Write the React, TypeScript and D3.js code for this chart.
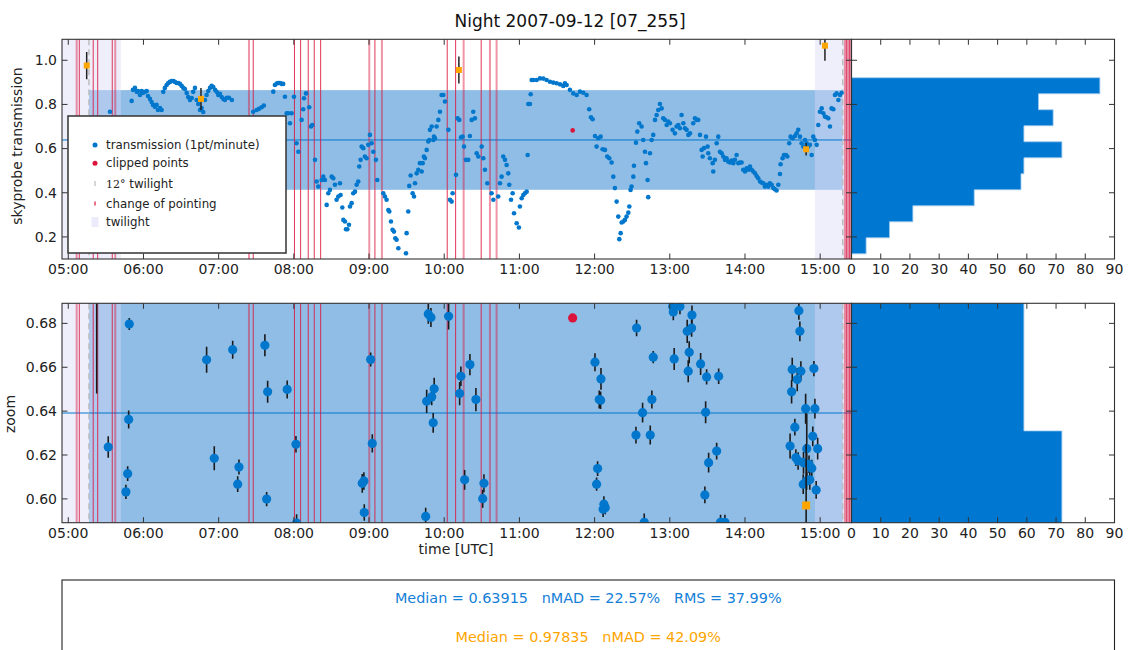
import React from "react";
import * as d3 from "d3";

// ---------- DATA ----------
const TITLE = "Night 2007-09-12 [07_255]";
const T0 = Date.UTC(2007, 8, 12, 5, 0, 0); // 05:00 UTC, times below are minutes after it
const xDomainMinutes = [-5, 625];
const yTopDomain = [0.1, 1.095];

const MEDIAN = 0.63915;
const NMAD = 0.2257;
const RMS = 0.3799;
const REF_MEDIAN = 0.97835;
const REF_NMAD = 0.4209;
const ZOOM_HALF = 0.05;

// transmission (1pt/minute): [minutes after 05:00, transmission]
const transmission: [number, number][] = [
  [33.3, 0.767],
  [50.6, 0.816], [51.6, 0.866], [53.2, 0.875], [54.6, 0.857], [55.6, 0.861], [57.2, 0.843], [58.6, 0.861], [59.6, 0.852], [61.2, 0.857], [62.6, 0.861],
  [63.6, 0.838], [65.2, 0.825], [66.5, 0.811], [67.6, 0.798], [69.2, 0.789], [70.5, 0.798], [71.6, 0.775], [73.2, 0.784], [74.5, 0.775], [75.8, 0.857],
  [77.1, 0.875], [78.5, 0.888], [79.8, 0.897], [81.1, 0.902], [82.5, 0.906], [83.8, 0.906], [85.1, 0.902], [86.5, 0.897], [87.8, 0.897], [89.1, 0.893],
  [90.5, 0.884], [91.8, 0.875], [93.1, 0.870], [94.5, 0.852], [95.7, 0.834], [97.1, 0.820], [98.5, 0.829], [99.7, 0.857], [101.1, 0.875], [102.4, 0.820],
  [103.7, 0.802], [105.1, 0.775], [106.4, 0.784], [107.7, 0.766], [109.1, 0.820], [110.4, 0.843], [111.7, 0.861], [113.1, 0.875], [114.4, 0.884], [115.7, 0.879],
  [117.1, 0.866], [118.4, 0.857], [119.7, 0.843], [121.0, 0.848], [122.4, 0.834], [123.7, 0.825], [125.0, 0.820], [126.6, 0.830], [128.2, 0.830], [130.6, 0.820],
  [147.6, 0.767], [150.3, 0.775], [152.2, 0.780], [154.3, 0.787], [156.1, 0.795], [163.6, 0.858], [164.9, 0.888], [166.3, 0.895], [167.6, 0.897], [168.9, 0.897],
  [170.3, 0.893], [171.5, 0.893], [172.9, 0.835], [174.3, 0.760], [175.5, 0.760], [176.9, 0.715],
  [178.2, 0.760], [180.1, 0.835], [182.2, 0.624], [183.6, 0.586], [186.2, 0.730], [187.5, 0.778], [188.1, 0.828], [189.7, 0.850], [192.3, 0.787], [193.7, 0.700],
  [194.7, 0.707], [196.9, 0.549], [198.2, 0.451], [199.5, 0.428], [202.2, 0.458], [203.5, 0.473], [204.8, 0.458], [206.2, 0.345], [207.5, 0.398], [208.8, 0.413],
  [210.2, 0.473], [211.5, 0.466], [212.8, 0.436], [214.1, 0.368], [215.5, 0.383], [216.8, 0.443], [217.3, 0.390], [218.7, 0.333], [219.5, 0.277], [220.8, 0.270],
  [221.6, 0.235], [222.7, 0.235], [224.0, 0.255], [224.8, 0.338], [226.1, 0.353], [227.4, 0.398], [228.8, 0.405], [230.1, 0.436], [231.4, 0.451], [232.2, 0.519],
  [233.3, 0.549], [234.1, 0.609], [235.4, 0.602], [236.7, 0.564], [238.1, 0.556], [239.4, 0.617], [240.7, 0.662], [242.1, 0.624], [243.4, 0.586], [245.5, 0.549],
  [246.6, 0.458], [251.4, 0.398], [252.7, 0.383], [254.0, 0.368], [255.4, 0.322], [256.2, 0.315], [257.5, 0.270], [258.8, 0.232], [259.9, 0.224], [261.0, 0.194],
  [262.0, 0.187], [263.4, 0.149], [269.5, 0.126], [270.0, 0.217], [271.3, 0.315], [272.1, 0.431], [273.2, 0.478], [274.8, 0.398], [275.9, 0.383], [276.7, 0.443],
  [278.0, 0.488], [279.3, 0.504], [280.6, 0.534], [282.0, 0.496], [282.8, 0.534], [283.8, 0.564], [284.6, 0.556], [286.0, 0.594], [287.3, 0.632], [288.1, 0.639],
  [288.6, 0.685], [290.0, 0.700], [291.3, 0.639], [291.8, 0.654], [292.6, 0.647], [293.9, 0.700], [295.3, 0.730], [296.6, 0.767], [297.9, 0.843], [299.3, 0.843],
  [300.6, 0.813], [303.3, 0.685], [304.6, 0.368], [305.9, 0.360], [306.7, 0.398], [309.4, 0.481], [310.7, 0.737], [312.0, 0.730], [313.4, 0.651], [314.7, 0.654],
  [315.8, 0.609], [317.3, 0.549], [319.2, 0.549], [320.5, 0.657], [321.9, 0.730], [323.2, 0.767], [324.5, 0.737], [325.9, 0.579], [327.2, 0.564], [329.9, 0.609],
  [331.2, 0.556], [332.5, 0.504], [334.4, 0.443], [337.8, 0.398], [339.2, 0.368], [343.1, 0.383], [344.5, 0.443], [345.8, 0.473], [347.1, 0.564], [348.5, 0.549],
  [349.8, 0.526], [351.1, 0.488], [351.9, 0.436], [353.3, 0.368], [354.6, 0.398], [355.7, 0.307], [357.8, 0.262], [359.6, 0.243], [360.4, 0.338], [361.8, 0.375],
  [363.1, 0.390], [364.4, 0.398], [365.8, 0.405], [366.6, 0.571], [367.1, 0.802], [368.4, 0.802], [369.0, 0.846], [369.8, 0.911], [371.1, 0.911], [373.7, 0.911],
  [376.4, 0.918], [379.1, 0.917], [381.7, 0.911], [384.4, 0.903], [387.0, 0.899], [389.7, 0.896], [392.4, 0.891], [395.0, 0.884], [396.3, 0.896], [397.7, 0.888],
  [400.3, 0.866], [403.0, 0.850], [405.7, 0.843],
  [408.3, 0.858], [411.0, 0.853], [413.6, 0.843], [415.7, 0.778], [417.1, 0.742], [418.4, 0.733], [420.3, 0.657], [421.6, 0.609], [422.9, 0.647], [424.8, 0.654],
  [426.4, 0.597], [428.3, 0.594], [430.1, 0.564], [431.7, 0.556], [433.6, 0.537], [434.9, 0.473], [436.2, 0.421], [437.6, 0.360], [438.9, 0.292], [439.7, 0.190],
  [440.8, 0.217], [441.6, 0.265], [442.9, 0.270], [444.2, 0.277], [445.5, 0.292], [446.9, 0.310], [447.7, 0.338], [448.7, 0.413], [449.5, 0.428], [450.9, 0.473],
  [451.4, 0.522], [453.0, 0.627], [454.1, 0.677], [455.6, 0.715], [457.5, 0.700], [458.8, 0.639], [460.2, 0.586], [461.0, 0.534], [462.3, 0.458], [462.8, 0.380],
  [464.2, 0.579], [465.5, 0.639], [466.8, 0.662], [468.2, 0.730], [469.5, 0.752], [470.8, 0.775], [472.1, 0.802], [473.5, 0.782], [474.8, 0.737], [476.1, 0.730],
  [477.5, 0.707], [478.8, 0.722], [480.1, 0.715], [482.2, 0.685], [484.1, 0.669], [485.4, 0.700], [486.8, 0.707], [488.1, 0.692], [489.4, 0.752], [490.8, 0.715],
  [492.1, 0.692], [493.4, 0.685], [494.8, 0.662], [496.1, 0.669], [498.7, 0.715], [500.1, 0.737], [501.4, 0.730], [502.7, 0.730], [504.1, 0.662], [505.4, 0.594],
  [506.2, 0.564], [507.3, 0.602], [508.9, 0.654], [510.2, 0.609], [510.7, 0.579], [512.0, 0.556], [514.2, 0.534], [514.7, 0.496], [516.0, 0.549], [517.4, 0.624],
  [518.7, 0.654], [520.0, 0.586], [521.4, 0.579], [522.7, 0.564], [524.0, 0.549], [525.3, 0.556], [526.7, 0.541], [528.0, 0.537], [529.3, 0.546], [530.7, 0.534],
  [532.0, 0.549], [533.3, 0.571], [534.7, 0.534], [536.0, 0.537], [537.3, 0.537], [538.6, 0.504], [540.0, 0.496], [541.3, 0.511], [542.6, 0.504], [544.0, 0.519],
  [545.3, 0.504], [546.6, 0.496], [548.0, 0.488], [549.3, 0.476], [550.6, 0.466], [552.0, 0.451], [553.3, 0.446], [554.6, 0.443], [555.9, 0.428], [557.3, 0.436],
  [558.6, 0.428], [559.9, 0.443], [561.3, 0.436], [562.6, 0.421], [563.9, 0.416], [565.2, 0.410], [566.6, 0.436], [567.9, 0.485], [568.4, 0.529], [570.0, 0.556],
  [571.1, 0.571], [572.7, 0.571], [573.8, 0.564], [575.3, 0.624], [576.4, 0.654], [578.0, 0.647], [579.9, 0.657], [581.2, 0.669], [582.5, 0.685], [583.9, 0.654],
  [585.2, 0.624], [586.5, 0.609], [587.9, 0.639], [589.2, 0.624], [590.5, 0.609], [591.8, 0.617], [593.2, 0.571], [594.5, 0.654], [595.8, 0.639], [597.2, 0.617],
  [598.5, 0.707], [599.8, 0.767], [601.2, 0.782], [602.5, 0.760], [603.8, 0.745], [605.1, 0.742], [606.5, 0.737], [607.8, 0.700], [609.1, 0.782], [610.5, 0.778],
  [611.8, 0.843], [613.1, 0.850], [614.5, 0.820], [615.8, 0.843], [617.1, 0.853],
];

// clipped points: [minutes, value]
const clippedPoints: [number, number][] = [[402.5, 0.6825]];

// reference measurements (orange): [minutes, value, error]
const referencePoints: [number, number, number][] = [
  [14.7, 0.976, 0.062], [105.9, 0.825, 0.05], [311.7, 0.956, 0.061], [588.8, 0.597, 0.028], [603.8, 1.066, 0.068],
];

// zoom panel points: [minutes, zoom, error]
const zoomPoints: [number, number, number][] = [
  [22.7, 0.705, 0.057], [31.9, 0.6236, 0.0049], [46.0, 0.6032, 0.0032], [47.4, 0.6115, 0.0034], [48.2, 0.6362, 0.0041],
  [48.7, 0.6797, 0.0027], [110.4, 0.6634, 0.0059], [116.5, 0.6185, 0.0055], [131.2, 0.668, 0.0041], [135.2, 0.6067, 0.0036],
  [136.2, 0.6145, 0.0034], [156.9, 0.67, 0.005], [158.3, 0.5999, 0.0032], [159.1, 0.6488, 0.005], [174.7, 0.6499, 0.0041],
  [181.7, 0.6249, 0.0038], [182.2, 0.589, 0.004], [234.6, 0.6071, 0.0043], [235.9, 0.6082, 0.004], [236.2, 0.5938, 0.0038],
  [241.3, 0.6635, 0.0032], [242.6, 0.6253, 0.0042], [285.2, 0.592, 0.004], [286.0, 0.6445, 0.0053], [287.3, 0.6843, 0.0045],
  [289.4, 0.6827, 0.0043], [290.0, 0.6465, 0.0038], [291.2, 0.6347, 0.0045], [292.0, 0.6502, 0.005], [303.5, 0.6832, 0.006],
  [312.3, 0.648, 0.0053], [313.3, 0.6559, 0.0045], [316.3, 0.6087, 0.0045], [320.5, 0.6612, 0.0048], [325.3, 0.6453, 0.0053],
  [330.7, 0.6001, 0.0041], [331.7, 0.6071, 0.0041], [420.3, 0.6623, 0.0041], [421.6, 0.6067, 0.003], [422.4, 0.6138, 0.0034],
  [423.7, 0.6453, 0.0041], [424.8, 0.645, 0.004], [425.1, 0.6547, 0.005], [426.8, 0.5953, 0.0035], [427.4, 0.5976, 0.0036],
  [428.5, 0.596, 0.003], [453.0, 0.6291, 0.0038], [453.5, 0.6779, 0.0038], [458.3, 0.6393, 0.0045], [459.6, 0.5893, 0.004],
  [464.4, 0.6291, 0.0043], [465.7, 0.6453, 0.0041], [466.8, 0.6646, 0.0028], [482.3, 0.6877, 0.0038], [482.8, 0.6852, 0.0038],
  [483.5, 0.6638, 0.005], [488.1, 0.6877, 0.0035], [493.9, 0.6764, 0.0053], [494.7, 0.6582, 0.005], [495.5, 0.6668, 0.005],
  [497.4, 0.6779, 0.004], [497.7, 0.6838, 0.0043], [504.6, 0.6615, 0.005], [508.0, 0.6018, 0.0038], [508.6, 0.6395, 0.005],
  [509.4, 0.6556, 0.0035], [511.0, 0.6165, 0.0045], [517.4, 0.6218, 0.0038], [519.0, 0.6559, 0.0035], [520.5, 0.5893, 0.0035],
  [524.0, 0.5893, 0.0035], [576.0, 0.6241, 0.0057], [577.2, 0.6488, 0.0053], [577.7, 0.659, 0.0053], [579.8, 0.6327, 0.0038],
  [580.6, 0.6188, 0.0038], [581.7, 0.6544, 0.0053], [582.4, 0.6173, 0.004], [583.0, 0.6858, 0.0042], [583.8, 0.6764, 0.0045],
  [584.6, 0.6582, 0.0045], [586.5, 0.6067, 0.0045], [586.7, 0.6165, 0.005], [588.4, 0.6411, 0.0068], [589.2, 0.6082, 0.004],
  [589.3, 0.6229, 0.016], [591.1, 0.6158, 0.004], [591.7, 0.6087, 0.0045], [593.3, 0.614, 0.0038], [594.1, 0.6285, 0.0045],
  [595.0, 0.6594, 0.0035], [595.8, 0.6411, 0.0045], [596.8, 0.6041, 0.004], [598.0, 0.6229, 0.005],
];

// change of pointing (minutes after 05:00)
const pointingChanges = [8.8, 19.9, 23.5, 35.1, 147.6, 180.5, 185.4, 191.5, 196.3, 201.4, 244.7, 302.4, 309.1, 329.5, 620.9, 623.3];
const pointingChangesFaint = [6.7, 37.5, 144.2, 240.2, 250.3, 315.5, 336.5, 341.8, 619.7, 622.1, 624.5];

// twilight spans and 12 degree twilight (minutes)
const twilightSpans: [number, number][] = [[-5, 42], [595.8, 625]];
const twilight12 = [16.5, 618];

// histogram of transmission
const histEdges = [0.1235, 0.196, 0.2685, 0.341, 0.4135, 0.486, 0.5585, 0.631, 0.7035, 0.776, 0.8485, 0.921];
const histCounts = [5, 13, 21, 42, 58, 59, 72, 59, 69, 64, 85];

const yTopTicks = [0.2, 0.4, 0.6, 0.8, 1.0];
const yBotTicks = [0.6, 0.62, 0.64, 0.66, 0.68];
const histTicks = [0, 10, 20, 30, 40, 50, 60, 70, 80, 90];

// ---------- STYLE / LAYOUT ----------
const W = 1128, H = 650;
const L = 62, R = 851.5, HR = 1114.5;
const P1 = { top: 39.3, bottom: 259 };
const P2 = { top: 303.3, bottom: 522.7 };
const FONT = "DejaVu Sans, sans-serif";
const BLUE = "#0077cc";
const HIST_BLUE = "#0078d2";
const ORANGE = "#ffa500";
const CRIMSON = "#dc143c";
const BAND = "#8fbde6";
const TWI = "#d8d8f8";
const SPINE = "#333";

const toDate = (m: number) => new Date(T0 + m * 60000);

export default function App() {
  const x = d3.scaleUtc().domain([toDate(xDomainMinutes[0]), toDate(xDomainMinutes[1])]).range([L, R]);
  const xm = (m: number) => x(toDate(m));
  const xH = d3.scaleLinear().domain([0, 90]).range([R, HR]);
  const yTop = d3.scaleLinear().domain(yTopDomain).range([P1.bottom, P1.top]);
  const yBot = d3.scaleLinear().domain([MEDIAN - ZOOM_HALF, MEDIAN + ZOOM_HALF]).range([P2.bottom, P2.top]);
  const hourTicks = x.ticks(d3.utcHour.every(1) as any);
  const fmtHour = d3.utcFormat("%H:%M");

  const histPath = (y: d3.ScaleLinear<number, number>) => {
    const p = d3.path();
    p.moveTo(xH(0), y(histEdges[0]));
    histCounts.forEach((c, i) => {
      p.lineTo(xH(c), y(histEdges[i]));
      p.lineTo(xH(c), y(histEdges[i + 1]));
    });
    p.lineTo(xH(0), y(histEdges[histEdges.length - 1]));
    p.closePath();
    return p.toString();
  };

  const background = (y: d3.ScaleLinear<number, number>, box: { top: number; bottom: number }) => (
    <g>
      <rect
        x={xm(twilight12[0])}
        width={xm(twilight12[1]) - xm(twilight12[0])}
        y={y(MEDIAN + NMAD)}
        height={y(MEDIAN - NMAD) - y(MEDIAN + NMAD)}
        fill={BAND}
      />
      {twilightSpans.map(([a, b], i) => (
        <rect key={i} x={xm(a)} width={xm(b) - xm(a)} y={box.top} height={box.bottom - box.top} fill={TWI} opacity={0.42} />
      ))}
      <line x1={L} x2={R} y1={y(MEDIAN)} y2={y(MEDIAN)} stroke={BLUE} strokeWidth={1} />
      {pointingChangesFaint.map((m, i) => (
        <line key={"f" + i} x1={xm(m)} x2={xm(m)} y1={box.top} y2={box.bottom} stroke={CRIMSON} strokeOpacity={0.45} strokeWidth={2} />
      ))}
      {pointingChanges.map((m, i) => (
        <line key={"p" + i} x1={xm(m)} x2={xm(m)} y1={box.top} y2={box.bottom} stroke={CRIMSON} strokeOpacity={0.85} strokeWidth={1} />
      ))}
      {twilight12.map((m, i) => (
        <line key={"t" + i} x1={xm(m)} x2={xm(m)} y1={box.top} y2={box.bottom} stroke="#bbbbbb" strokeWidth={1.4} strokeDasharray="6,4" />
      ))}
    </g>
  );

  const frame = (
    key: string,
    y: d3.ScaleLinear<number, number>,
    box: { top: number; bottom: number },
    yTicks: number[],
    yFmt: (v: number) => string
  ) => {
    const tl = 5.5;
    return (
      <g key={key}>
        <rect x={L} y={box.top} width={R - L} height={box.bottom - box.top} fill="none" stroke={SPINE} strokeWidth={1.1} />
        <rect x={R} y={box.top} width={HR - R} height={box.bottom - box.top} fill="none" stroke={SPINE} strokeWidth={1.1} />
        {hourTicks.map((d, i) => (
          <g key={"x" + i}>
            <line x1={x(d)} x2={x(d)} y1={box.bottom} y2={box.bottom - tl} stroke={SPINE} />
            <line x1={x(d)} x2={x(d)} y1={box.top} y2={box.top + tl} stroke={SPINE} />
            <text x={x(d)} y={box.bottom + 15} textAnchor="middle" fontSize={14} fontFamily={FONT} fill="#222">
              {fmtHour(d)}
            </text>
          </g>
        ))}
        {histTicks.map((v, i) => (
          <g key={"h" + i}>
            <line x1={xH(v)} x2={xH(v)} y1={box.bottom} y2={box.bottom - tl} stroke={SPINE} />
            <line x1={xH(v)} x2={xH(v)} y1={box.top} y2={box.top + tl} stroke={SPINE} />
            <text x={xH(v)} y={box.bottom + 15} textAnchor="middle" fontSize={14} fontFamily={FONT} fill="#222">
              {v}
            </text>
          </g>
        ))}
        {yTicks.map((v, i) => (
          <g key={"y" + i}>
            <line x1={L} x2={L + tl} y1={y(v)} y2={y(v)} stroke={SPINE} />
            <line x1={R} x2={R - tl} y1={y(v)} y2={y(v)} stroke={SPINE} />
            <line x1={R} x2={R + tl} y1={y(v)} y2={y(v)} stroke={SPINE} />
            <line x1={HR} x2={HR - tl} y1={y(v)} y2={y(v)} stroke={SPINE} />
            <text x={L - 5} y={y(v)} dy="0.35em" textAnchor="end" fontSize={14} fontFamily={FONT} fill="#222">
              {yFmt(v)}
            </text>
          </g>
        ))}
      </g>
    );
  };

  const statsLine1 = `Median = ${MEDIAN.toFixed(5)}   nMAD = ${(NMAD * 100).toFixed(2)}%   RMS = ${(RMS * 100).toFixed(2)}%`;
  const statsLine2 = `Median = ${REF_MEDIAN.toFixed(5)}   nMAD = ${(REF_NMAD * 100).toFixed(2)}%`;

  return (
    <svg width={W} height={H} style={{ position: "absolute", left: 0, top: 0, display: "block", background: "#fff" }}>
      <defs>
        <clipPath id="clipTop"><rect x={L} y={P1.top} width={R - L} height={P1.bottom - P1.top} /></clipPath>
        <clipPath id="clipBot"><rect x={L} y={P2.top} width={R - L} height={P2.bottom - P2.top} /></clipPath>
        <clipPath id="clipHTop"><rect x={R} y={P1.top} width={HR - R} height={P1.bottom - P1.top} /></clipPath>
        <clipPath id="clipHBot"><rect x={R} y={P2.top} width={HR - R} height={P2.bottom - P2.top} /></clipPath>
      </defs>

      <text x={570} y={27} textAnchor="middle" fontSize={17} fontFamily={FONT} fill="#111">{TITLE}</text>

      {/* ---------- top panel ---------- */}
      <g clipPath="url(#clipTop)">
        {background(yTop, P1)}
        {transmission.map(([m, v], i) => (
          <circle key={i} cx={xm(m)} cy={yTop(v)} r={2.3} fill={BLUE} />
        ))}
        {clippedPoints.map(([m, v], i) => (
          <circle key={i} cx={xm(m)} cy={yTop(v)} r={2.3} fill={CRIMSON} />
        ))}
        {referencePoints.map(([m, v, e], i) => (
          <g key={i}>
            <line x1={xm(m)} x2={xm(m)} y1={yTop(v - e)} y2={yTop(v + e)} stroke="#222" strokeWidth={1.5} />
            <rect x={xm(m) - 3} y={yTop(v) - 3} width={6} height={6} fill={ORANGE} />
          </g>
        ))}
      </g>
      <g clipPath="url(#clipHTop)">
        <path d={histPath(yTop)} fill={HIST_BLUE} stroke="#9fc9ee" strokeWidth={0.8} />
      </g>
      {frame("f1", yTop, P1, yTopTicks, (v) => v.toFixed(1))}
      <text transform={`translate(22,146) rotate(-90)`} textAnchor="middle" fontSize={14} fontFamily={FONT} fill="#222">
        skyprobe transmission
      </text>

      {/* legend */}
      <g fontFamily={FONT} fontSize={11.8} fill="#222">
        <rect x={68} y={116} width={218} height={137} fill="#fff" stroke="#333" strokeWidth={1.5} />
        <circle cx={95} cy={145} r={2.5} fill={BLUE} />
        <text x={106} y={149}>transmission (1pt/minute)</text>
        <circle cx={95} cy={163.3} r={2.5} fill={CRIMSON} />
        <text x={106} y={167.3}>clipped points</text>
        <line x1={95} x2={95} y1={181} y2={186} stroke="#bbbbbb" strokeWidth={1.2} />
        <text x={106} y={187.5}>
          <tspan fontFamily="DejaVu Serif, serif" fontSize={11}>12°</tspan>
          <tspan> twilight</tspan>
        </text>
        <line x1={95} x2={95} y1={201.5} y2={205.5} stroke={CRIMSON} strokeWidth={1.2} />
        <text x={106} y={207.5}>change of pointing</text>
        <rect x={91.5} y={217} width={7} height={10} fill={TWI} opacity={0.5} />
        <text x={106} y={225.7}>twilight</text>
      </g>

      {/* ---------- bottom panel ---------- */}
      <g clipPath="url(#clipBot)">
        {background(yBot, P2)}
        {zoomPoints.map(([m, v, e], i) => (
          <line key={"e" + i} x1={xm(m)} x2={xm(m)} y1={yBot(v - e)} y2={yBot(v + e)} stroke="#1a1a1a" strokeWidth={1.6} />
        ))}
        {zoomPoints.map(([m, v], i) => (
          <circle key={"c" + i} cx={xm(m)} cy={yBot(v)} r={4.6} fill={BLUE} />
        ))}
        {referencePoints.map(([m, v, e], i) => (
          <g key={"r" + i}>
            <line x1={xm(m)} x2={xm(m)} y1={yBot(v - e)} y2={yBot(v + e)} stroke="#1a1a1a" strokeWidth={1.6} />
            <rect x={xm(m) - 4} y={yBot(v) - 4} width={8} height={8} fill={ORANGE} />
          </g>
        ))}
        {clippedPoints.map(([m, v], i) => (
          <circle key={"k" + i} cx={xm(m)} cy={yBot(v)} r={4.6} fill={CRIMSON} />
        ))}
      </g>
      <g clipPath="url(#clipHBot)">
        <path d={histPath(yBot)} fill={HIST_BLUE} stroke="#9fc9ee" strokeWidth={0.8} />
      </g>
      {frame("f2", yBot, P2, yBotTicks, (v) => v.toFixed(2))}
      <text transform={`translate(15,414) rotate(-90)`} textAnchor="middle" fontSize={14} fontFamily={FONT} fill="#222">
        zoom
      </text>
      <text x={456} y={554} textAnchor="middle" fontSize={14} fontFamily={FONT} fill="#222">
        time [UTC]
      </text>

      {/* ---------- stats box ---------- */}
      <rect x={L} y={580} width={HR - L} height={120} fill="#fff" stroke="#222" strokeWidth={1.1} />
      <text x={(L + HR) / 2} y={603} textAnchor="middle" fontSize={14.4} fontFamily={FONT} fill="#1580d8" style={{ whiteSpace: "pre" }}>
        {statsLine1}
      </text>
      <text x={(L + HR) / 2} y={642} textAnchor="middle" fontSize={14.4} fontFamily={FONT} fill={ORANGE} style={{ whiteSpace: "pre" }}>
        {statsLine2}
      </text>
    </svg>
  );
}
